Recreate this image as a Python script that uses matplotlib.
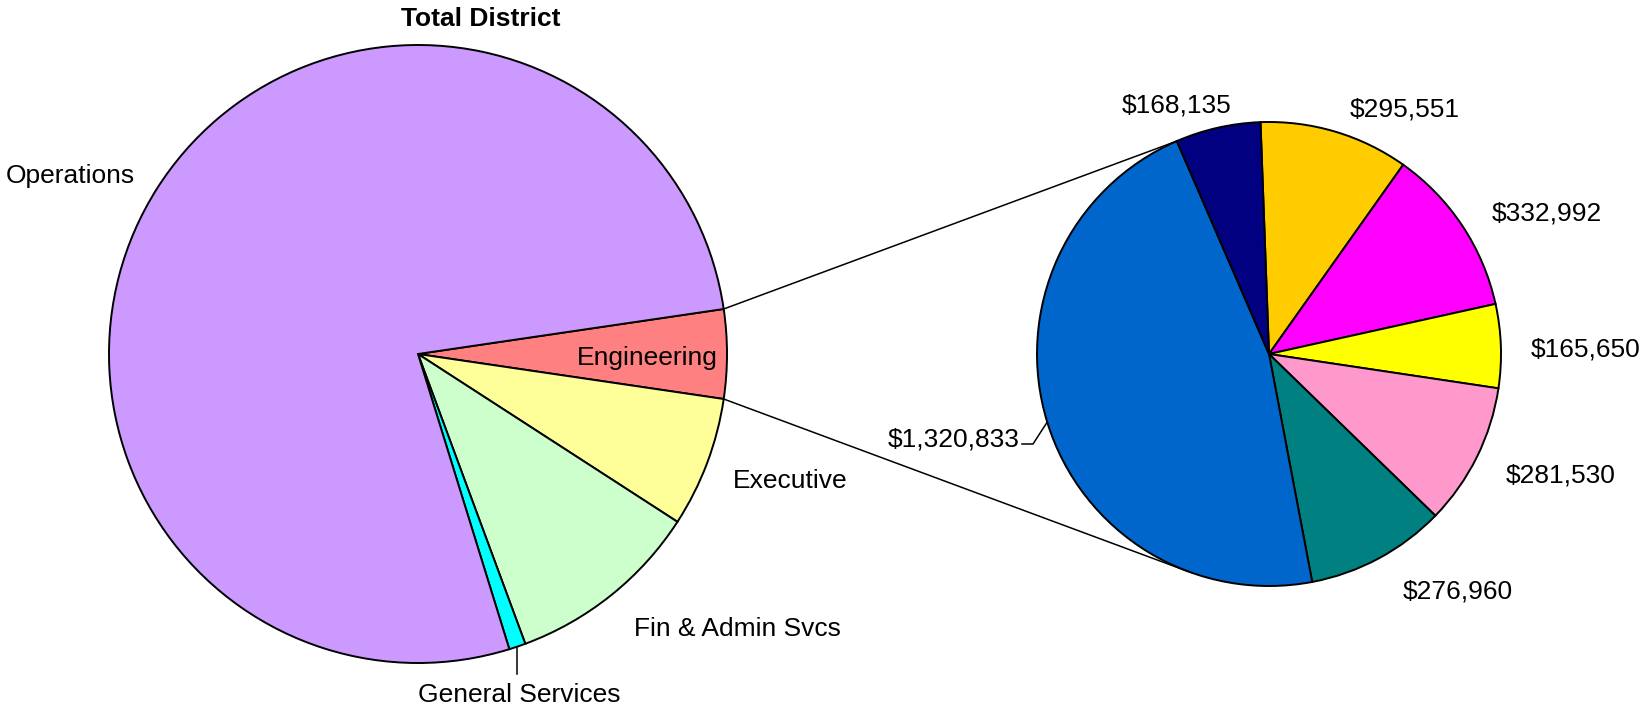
import numpy as np
import matplotlib.pyplot as plt

plt.rcParams['font.family'] = ['Liberation Sans', 'DejaVu Sans']

# district budget by department, clockwise from the split-out slice
departments = ["Engineering", "Executive", "Fin & Admin Svcs", "General Services", "Operations"]
dept_values = [2841651, 4160000, 6240000, 530000, 47300000]
dept_colors = ["#FF8080", "#FFFF99", "#CCFFCC", "#00FFFF", "#CC99FF"]

# engineering breakdown, clockwise from the top
eng_values = [295551, 332992, 165650, 281530, 276960, 1320833, 168135]
eng_colors = ["#FFCC00", "#FF00FF", "#FFFF00", "#FF99CC", "#008080", "#0066CC", "#000080"]
eng_labels = ["$" + f"{v:,}" for v in eng_values]

W, H = 1646, 714
FS = 19


def up(y):
    return H - y


fig = plt.figure(figsize=(W / 100, H / 100), dpi=100)
ax = fig.add_axes([0, 0, 1, 1])

big_c, big_r = np.array([418, up(354)]), 309
small_c, small_r = np.array([1269, up(354)]), 232
edge = dict(edgecolor='black', linewidth=1.4)

# main pie, split slice centred on the right-hand side
start = 180 * dept_values[0] / sum(dept_values)
big_w, _ = ax.pie(dept_values, colors=dept_colors, startangle=start, counterclock=False,
                  center=big_c, radius=big_r, wedgeprops=edge)

small_w, _ = ax.pie(eng_values, colors=eng_colors, startangle=92.1, counterclock=False,
                    center=small_c, radius=small_r, wedgeprops=edge)


def on_circle(c, r, deg):
    t = np.radians(deg)
    return c + r * np.array([np.cos(t), np.sin(t)])


# connector lines between the two pies
p_top = on_circle(big_c, big_r, start)
p_bot = on_circle(big_c, big_r, -start)
q_top = on_circle(small_c, small_r, small_w[-1].theta2)
d = p_bot - small_c
ang = np.degrees(np.arctan2(d[1], d[0]))
off = np.degrees(np.arccos(small_r / np.hypot(*d)))
q_bot = min((on_circle(small_c, small_r, ang + s * off) for s in (1, -1)), key=lambda q: q[1])
ax.plot([p_top[0], q_top[0]], [p_top[1], q_top[1]], color='black', lw=1.1)
ax.plot([p_bot[0], q_bot[0]], [p_bot[1], q_bot[1]], color='black', lw=1.1)

# department labels
dept_pos = {
    "Engineering": (647, 365),
    "Executive": (790, 488),
    "Fin & Admin Svcs": (737, 636),
    "General Services": (519, 702),
    "Operations": (70, 183),
}
for name in departments:
    x, y = dept_pos[name]
    ax.text(x, up(y), name, ha='center', va='baseline', fontsize=FS)

gs = big_w[departments.index("General Services")]
m = on_circle(big_c, big_r, (gs.theta1 + gs.theta2) / 2)
ax.plot([m[0], m[0]], [m[1], up(674)], color='black', lw=1.1)

# engineering value labels
eng_pos = [(1405, 116), (1547, 220), (1586, 357), (1561, 483),
           (1458, 598), (1020, 447), (1177, 112)]
for lab, (x, y) in zip(eng_labels, eng_pos):
    ha = 'right' if x < small_c[0] - small_r else 'center'
    ax.text(x, up(y), lab, ha=ha, va='baseline', fontsize=FS)

blue = small_w[eng_values.index(1320833)]
m = on_circle(small_c, small_r, (blue.theta1 + blue.theta2) / 2)
ax.plot([m[0], 1033, 1022], [m[1], up(444), up(444)], color='black', lw=1.1)

ax.text(481, up(26), "Total District", ha='center', va='baseline',
        fontsize=FS, fontweight='bold')

ax.set_xlim(0, W)
ax.set_ylim(0, H)
ax.set_aspect('equal')
ax.axis('off')

fig.savefig("out.png", dpi=100)
